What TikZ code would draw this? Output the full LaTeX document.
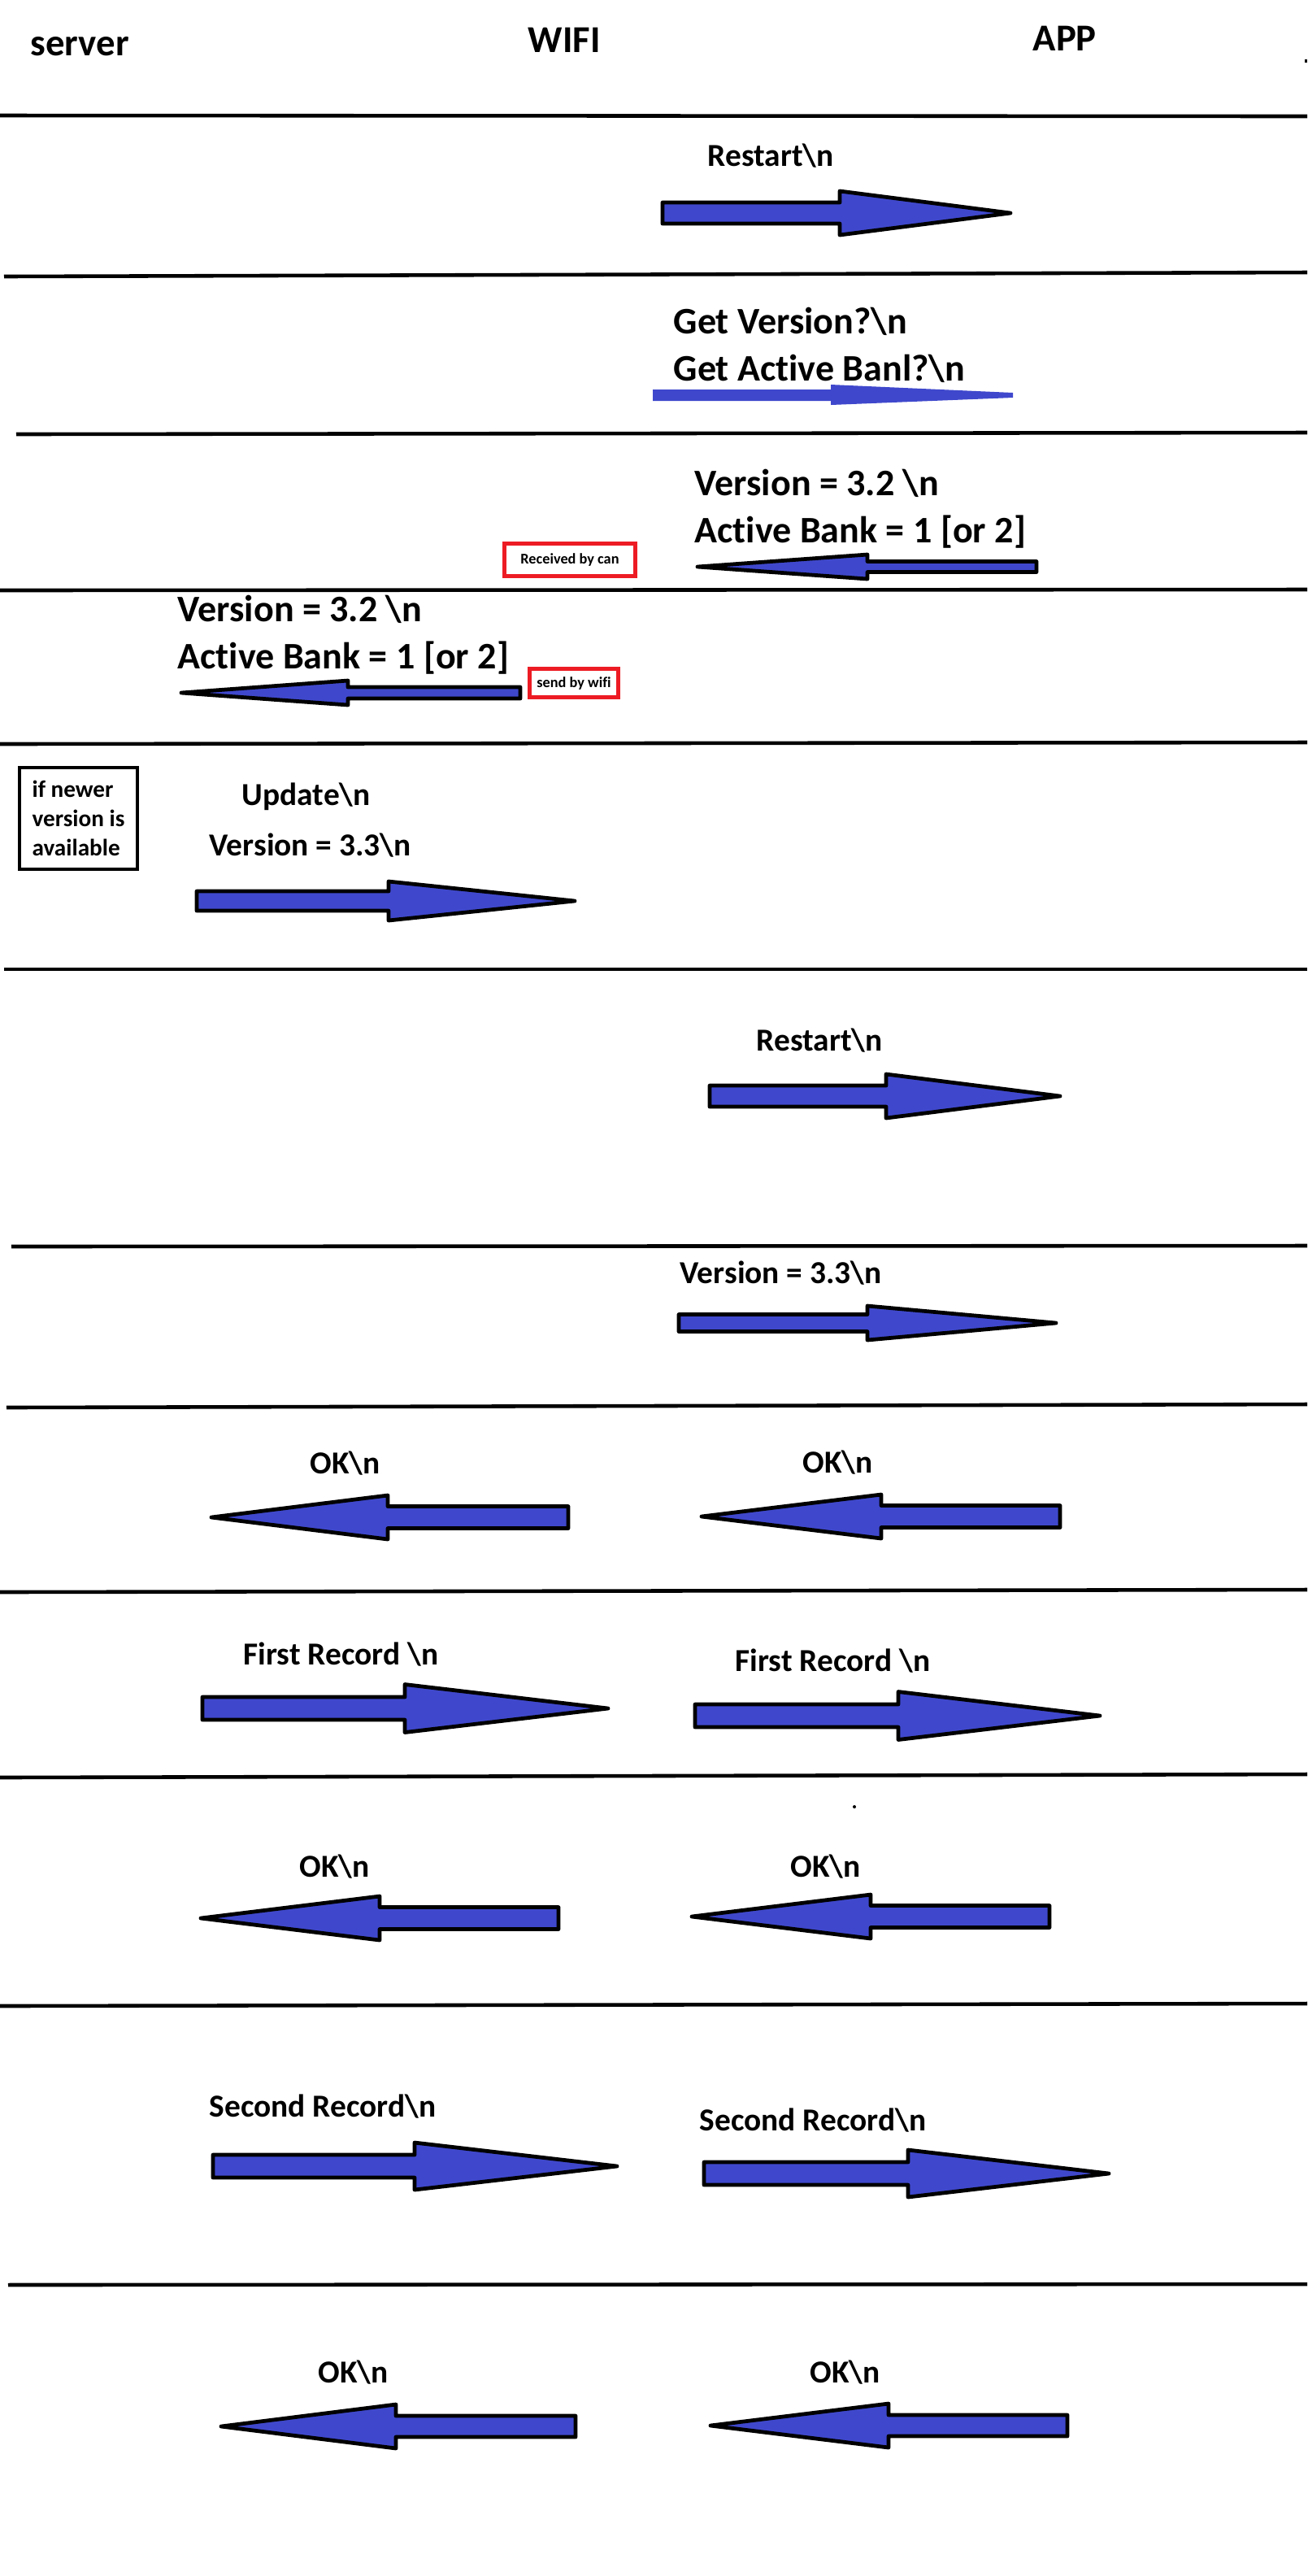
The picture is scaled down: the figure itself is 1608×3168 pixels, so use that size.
\documentclass[tikz,border=0pt]{standalone}
\usepackage{fontspec}
\setmainfont[Ligatures=NoCommon]{Carlito}
\definecolor{paintblue}{HTML}{3F48CC}
\definecolor{paintred}{HTML}{ED1C24}
% tail x, tip x, head base x, y, shaft half, head half
\newcommand{\fatarrow}[6]{%
  \draw[msgarrow] (#1,#4-#5) -- (#3,#4-#5) -- (#3,#4-#6) -- (#2,#4) -- (#3,#4+#6) -- (#3,#4+#5) -- (#1,#4+#5) -- cycle;}

\begin{document}
\begin{tikzpicture}[x=0.01cm, y=-0.01cm,
    lbl/.style={anchor=base west, inner sep=0pt, font=\bfseries\fontsize{11.2}{13}\selectfont},
    biglbl/.style={lbl, font=\bfseries\fontsize{13.1}{16}\selectfont},
    hdr/.style={lbl, font=\bfseries\fontsize{13.3}{16}\selectfont},
    redbox/.style={draw=paintred, line width=1.4pt, inner sep=0pt, font=\bfseries\fontsize{5.2}{6}\selectfont},
    msgarrow/.style={draw=black, fill=paintblue, line width=1.35pt, line join=round},
    rowline/.style={line width=1.3pt}]
  \fill[white] (0,0) rectangle (1608,3168);
  \useasboundingbox (0,0) rectangle (1608,3168);

  % header
  \node[hdr] (server) at (37,68) {server};
  \node[hdr] (wifi) at (649,64) {WIFI};
  \node[hdr] (app) at (1270,62) {APP};
  \fill (1605,73) rectangle (1608,77);

  % row lines
  \draw[rowline] (0,142) -- (1608,143);
  \draw[rowline] (5,340) -- (1608,335);
  \draw[rowline] (20,534) -- (1608,532);
  \draw[rowline] (0,726) -- (1608,725);
  \draw[rowline] (0,915) -- (1608,913);
  \draw[rowline] (5,1192) -- (1608,1192);
  \draw[rowline] (14,1533) -- (1608,1532);
  \draw[rowline] (8,1731) -- (1608,1727);
  \draw[rowline] (0,1958) -- (1608,1955);
  \draw[rowline] (0,2186) -- (1608,2182);
  \draw[rowline] (0,2467) -- (1608,2464);
  \draw[rowline] (10,2810) -- (1608,2809);

  % restart
  \node[lbl] (restart1) at (870,204) {Restart\textbackslash n};
  \fatarrow{815}{1243}{1033}{262}{13}{27}

  % get version
  \node[biglbl] (getver) at (828,410) {Get Version?\textbackslash n};
  \node[biglbl] (getbank) at (828,468) {Get Active Banl?\textbackslash n};
  \fill[paintblue] (803,479) -- (1022,479) -- (1022,473) -- (1246,483)
    -- (1246,489) -- (1022,498) -- (1022,493) -- (803,493) -- cycle;

  % version reply from app
  \node[biglbl] (ver1) at (854,609) {Version = 3.2 \textbackslash n};
  \node[biglbl] (bank1) at (854,667) {Active Bank = 1 [or 2]};
  \node[redbox, minimum width=1.61cm, minimum height=0.40cm] (bycan) at (701,688.5) {Received by can};
  \fatarrow{1275}{858}{1067}{697}{6.5}{15}

  % version reply to server
  \node[biglbl] (ver2) at (218,764) {Version = 3.2 \textbackslash n};
  \node[biglbl] (bank2) at (218,822) {Active Bank = 1 [or 2]};
  \node[redbox, minimum width=1.09cm, minimum height=0.35cm] (bywifi) at (706,840) {send by wifi};
  \fatarrow{640}{223}{428}{852}{7}{15}

  % update
  \node[draw, line width=1.15pt, minimum width=1.45cm, minimum height=1.25cm, align=left,
    font=\bfseries\fontsize{8.3}{10.3}\selectfont] (newer) at (96.5,1006.5) {if newer\\version is\\available};
  \node[lbl] (update) at (297,990) {Update\textbackslash n};
  \node[lbl] (ver3) at (257,1052) {Version = 3.3\textbackslash n};
  \fatarrow{242}{707}{478}{1108}{12}{24}

  % restart
  \node[lbl] (restart2) at (930,1292) {Restart\textbackslash n};
  \fatarrow{873}{1304}{1090}{1348}{13}{27}

  % new version
  \node[lbl] (ver4) at (836,1578) {Version = 3.3\textbackslash n};
  \fatarrow{835}{1299}{1067}{1627}{10.5}{21}

  % ok
  \node[lbl] (ok1) at (381,1812) {OK\textbackslash n};
  \node[lbl] (ok2) at (987,1811) {OK\textbackslash n};
  \fatarrow{699}{260}{477}{1866}{13.5}{27}
  \fatarrow{1304}{863}{1084}{1865}{13.5}{27}

  % first record
  \node[lbl] (first1) at (299,2047) {First Record \textbackslash n};
  \node[lbl] (first2) at (904,2055) {First Record \textbackslash n};
  \fatarrow{249}{748}{498}{2101}{14}{29.5}
  \fatarrow{855}{1353}{1105}{2110}{14}{29.5}

  % ok
  \fill (1051,2222) circle (2);
  \node[lbl] (ok3) at (368,2308) {OK\textbackslash n};
  \node[lbl] (ok4) at (972,2308) {OK\textbackslash n};
  \fatarrow{687}{247}{467}{2359}{13.5}{27}
  \fatarrow{1291}{851}{1071}{2357}{13.5}{27}

  % second record
  \node[lbl] (second1) at (257,2603) {Second Record\textbackslash n};
  \node[lbl] (second2) at (860,2620) {Second Record\textbackslash n};
  \fatarrow{262}{759}{510}{2664}{14}{29}
  \fatarrow{866}{1364}{1117}{2673}{14}{29}

  % ok
  \node[lbl] (ok5) at (391,2930) {OK\textbackslash n};
  \node[lbl] (ok6) at (996,2930) {OK\textbackslash n};
  \fatarrow{708}{272}{487}{2984}{13}{27}
  \fatarrow{1313}{874}{1093}{2983}{13}{27}
\end{tikzpicture}
\end{document}
